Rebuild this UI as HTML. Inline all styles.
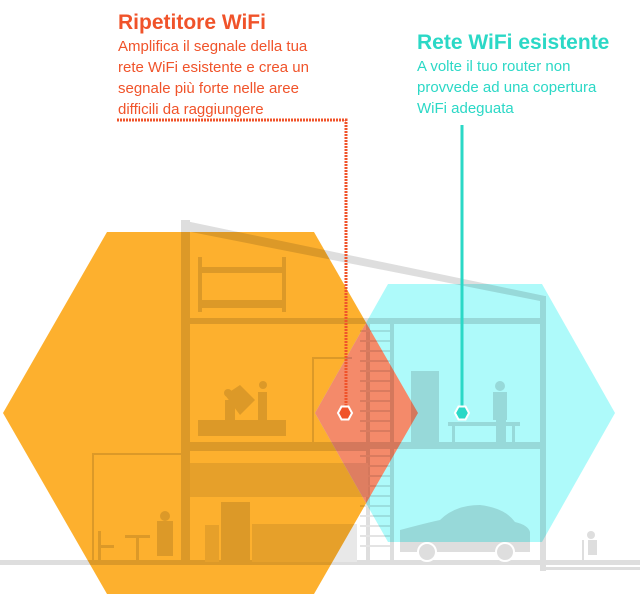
<!DOCTYPE html>
<html><head><meta charset="utf-8"><style>
html,body{margin:0;padding:0;background:#fff;width:640px;height:614px;overflow:hidden}
svg{display:block}
text{font-family:"Liberation Sans",sans-serif}
</style></head><body>
<svg width="640" height="614" viewBox="0 0 640 614" xmlns="http://www.w3.org/2000/svg">
<defs>
<clipPath id="cy"><polygon points="315,413 388,284 542,284 615,413 542,542 388,542"/></clipPath>
</defs>
<polygon points="3,413 107,232 314,232 418,413 314,594 107,594" fill="#fdb02e"/>
<polygon points="315,413 388,284 542,284 615,413 542,542 388,542" fill="#aefafa"/>
<polygon clip-path="url(#cy)" points="3,413 107,232 314,232 418,413 314,594 107,594" fill="#f48a6a"/>
<g style="mix-blend-mode:multiply" fill="#dedede" stroke="none">
  <polygon points="181,220 545,296 545,302 181,230"/>
  <rect x="181" y="220" width="9" height="343"/>
  <rect x="540" y="296" width="6" height="275"/>
  <rect x="0" y="560" width="640" height="5"/>
  <rect x="546" y="567" width="94" height="3"/>
  <rect x="190" y="318" width="178" height="6"/>
  <rect x="370" y="318" width="170" height="6"/>
  <rect x="190" y="442" width="178" height="9"/>
  <rect x="370" y="442" width="170" height="7"/>
  <rect x="366" y="318" width="4" height="245"/>
  <g fill="#e4e4e4">
    <rect x="360" y="330" width="32" height="2"/><rect x="360" y="340" width="32" height="2"/><rect x="360" y="350" width="32" height="2"/><rect x="360" y="360" width="32" height="2"/><rect x="360" y="370" width="32" height="2"/><rect x="360" y="380" width="32" height="2"/><rect x="360" y="390" width="32" height="2"/><rect x="360" y="400" width="32" height="2"/><rect x="360" y="410" width="32" height="2"/><rect x="360" y="420" width="32" height="2"/><rect x="360" y="430" width="32" height="2"/><rect x="360" y="455" width="32" height="2"/><rect x="360" y="465" width="32" height="2"/><rect x="360" y="475" width="32" height="2"/><rect x="360" y="485" width="32" height="2"/><rect x="360" y="495" width="32" height="2"/><rect x="360" y="505" width="32" height="2"/><rect x="360" y="515" width="32" height="2"/><rect x="360" y="525" width="32" height="2"/><rect x="360" y="535" width="32" height="2"/><rect x="360" y="545" width="32" height="2"/>
  </g>
  <rect x="390" y="318" width="4" height="245"/>
  <rect x="198" y="257" width="4" height="55"/><rect x="282" y="257" width="4" height="55"/>
  <rect x="198" y="267" width="88" height="6"/><rect x="198" y="300" width="88" height="8"/>
  <rect x="198" y="420" width="88" height="16"/>
  <polygon points="225,395 240,385 255,400 240,415"/>
  <circle cx="228" cy="393" r="4"/><rect x="225" y="400" width="10" height="20"/>
  <circle cx="263" cy="385" r="4"/><rect x="258" y="392" width="9" height="28"/>
  <rect x="312" y="357" width="2" height="86"/><rect x="312" y="357" width="40" height="2"/>
  <rect x="190" y="463" width="178" height="34" fill="#e8e8e8"/>
  <rect x="221" y="502" width="29" height="60"/>
  <rect x="205" y="525" width="14" height="37" fill="#e8e8e8"/><rect x="252" y="524" width="105" height="38" fill="#e8e8e8"/>
  <rect x="92" y="453" width="89" height="2"/><rect x="92" y="453" width="2" height="109"/>
  <rect x="125" y="535" width="25" height="3"/><rect x="136" y="535" width="3" height="27"/>
  <rect x="98" y="531" width="3" height="31"/><rect x="98" y="545" width="16" height="3"/>
  <circle cx="165" cy="516" r="5"/><rect x="157" y="521" width="16" height="35"/>
  <rect x="411" y="371" width="28" height="74"/>
  <rect x="448" y="422" width="72" height="4"/><rect x="452" y="422" width="3" height="22"/><rect x="512" y="422" width="3" height="22"/>
  <circle cx="500" cy="386" r="5"/><rect x="493" y="392" width="14" height="28"/><rect x="496" y="420" width="10" height="24"/>
  <path d="M400,530 Q430,522 440,520 Q455,505 480,505 Q505,508 515,522 Q528,525 530,532 L530,552 L400,552 Z"/>
  <circle cx="427" cy="552" r="9" stroke="#fff" stroke-width="2"/>
  <circle cx="505" cy="552" r="9" stroke="#fff" stroke-width="2"/>
  <circle cx="591" cy="535" r="4"/><rect x="588" y="540" width="9" height="15"/><rect x="582" y="540" width="2" height="24"/><rect x="582" y="562" width="18" height="2"/>
</g>
<polyline points="117,120 346,120 346,406" fill="none" stroke="#f0532a" stroke-width="3" stroke-dasharray="2,1"/>
<line x1="462" y1="125" x2="462" y2="406" stroke="#2bd8c6" stroke-width="3"/>
<polygon points="338,413 341.5,406.5 348.5,406.5 352,413 348.5,419.5 341.5,419.5" fill="#f0532a" stroke="#fff" stroke-width="2"/>
<polygon points="455,413 458.5,406.5 465.5,406.5 469,413 465.5,419.5 458.5,419.5" fill="#2bd8c6" stroke="#fff" stroke-width="2"/>
<g fill="#f0532a">
<text x="118" y="29" font-size="21" font-weight="bold">Ripetitore WiFi</text>
<text x="118" y="51" font-size="15">Amplifica il segnale della tua</text>
<text x="118" y="72" font-size="15">rete WiFi esistente e crea un</text>
<text x="118" y="93" font-size="15">segnale più forte nelle aree</text>
<text x="118" y="114" font-size="15">difficili da raggiungere</text>
</g>
<g fill="#2bd8c6">
<text x="417" y="49" font-size="21" font-weight="bold">Rete WiFi esistente</text>
<text x="417" y="71" font-size="15">A volte il tuo router non</text>
<text x="417" y="92" font-size="15">provvede ad una copertura</text>
<text x="417" y="113" font-size="15">WiFi adeguata</text>
</g>
</svg>
</body></html>
